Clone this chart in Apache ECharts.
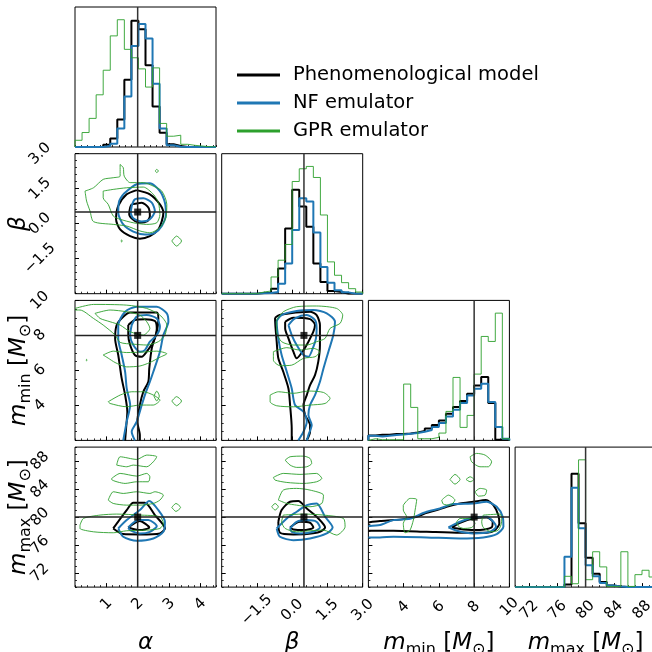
<!DOCTYPE html>
<html><head><meta charset="utf-8">
<script src="https://cdn.jsdelivr.net/npm/echarts@6/dist/echarts.min.js"></script>
<style>html,body{margin:0;padding:0;background:#fff}#c{width:652px;height:652px}</style>
</head><body><div id="c"></div><script>
// ---------------- data ----------------
const legendLabels = ['Phenomenological model', 'NF emulator', 'GPR emulator'];
const axisNames = ['{it|α}', '{it|β}', '{it|m}{sub|min} [{it|M}{sub|⊙}]', '{it|m}{sub|max} [{it|M}{sub|⊙}]'];
const alphaRange = [0, 4.5], betaRange = [-3, 3], mminRange = [2, 10], mmaxRange = [70, 90];
const truths = [2.0, 0.5, 8.0, 80.0];
const alphaTicks = [1, 2, 3, 4], alphaTickLabels = ['1', '2', '3', '4'];
const betaTicks = [-1.5, 0, 1.5, 3], betaTickLabels = ['\u22121.5', '0.0', '1.5', '3.0'];
const mminTicks = [4, 6, 8, 10], mminTickLabels = ['4', '6', '8', '10'];
const mmaxTicks = [72, 76, 80, 84, 88], mmaxTickLabels = ['72', '76', '80', '84', '88'];

// histograms (20 bins over the axis range)
const histAlphaModel = [0,0,0,1,7,25,82,200,375,350,243,120,42,8,3,0,0,0,0,0];
const histAlphaNF    = [0,0,0,0,3,10,55,150,300,365,322,188,55,5,1,0,0,0,0,0];
const histAlphaGPR   = [20,43,85,155,228,330,378,290,265,232,178,235,70,32,35,8,5,3,1,0];
const histBetaModel  = [0,0,0,0,0,2,3,15,75,195,310,260,200,90,35,8,5,0,0,0];
const histBetaNF     = [0,0,0,0,0,1,2,5,30,90,190,285,275,183,80,33,10,4,0,0];
const histBetaGPR    = [0,0,0,0,0,5,8,50,100,147,335,373,380,347,235,95,55,33,15,5];
const histMminModel  = [15,17,17,19,19,21,24,28,36,46,60,80,100,118,140,165,190,112,2,2];
const histMminNF     = [14,12,14,16,18,20,22,26,31,40,52,72,92,112,135,155,170,115,40,5];
const histMminGPR    = [5,2,2,2,2,169,99,5,5,9,22,87,189,39,75,199,312,297,382,5];
const histMmaxModel  = [0,0,0,0,0,0,0,8,337,190,87,40,15,5,2,0,0,0,0,0];
const histMmaxNF     = [0,0,0,0,0,0,0,90,295,175,65,32,12,5,2,0,0,0,0,0];
const histMmaxGPR    = [0,0,0,0,0,0,0,32,10,378,22,105,60,2,2,105,2,37,50,30];

// contours (alpha-beta)
const ctrABModel = [
 [[1.97,1.44],[2.39,1.26],[2.71,0.83],[2.82,0.47],[2.77,0.11],[2.66,-0.24],[2.39,-0.53],[2.07,-0.64],[1.76,-0.53],[1.44,-0.24],[1.31,0.19],[1.38,0.76],[1.65,1.26]],
 [[1.81,0.83],[2.13,0.90],[2.34,0.69],[2.39,0.33],[2.31,0.11],[2.07,0.04],[1.84,0.19],[1.73,0.40],[1.76,0.69]]
];
const ctrABNF = [
 [[1.54,1.26],[1.97,1.69],[2.39,1.73],[2.71,1.40],[2.87,0.90],[2.90,0.40],[2.77,-0.10],[2.55,-0.39],[2.23,-0.46],[1.86,-0.34],[1.54,-0.03],[1.38,0.47],[1.41,0.97]],
 [[1.81,0.76],[1.91,1.04],[2.18,1.09],[2.45,0.90],[2.55,0.54],[2.39,0.19],[2.13,0.09],[1.86,0.23],[1.78,0.47]]
];
const ctrABGPR = [
 [[0.32,1.40],[0.59,1.54],[0.90,1.90],[1.22,1.97],[1.44,2.04],[1.44,2.54],[1.54,2.40],[1.57,2.04],[1.76,1.76],[2.18,1.76],[2.50,1.61],[2.77,1.40],[2.93,0.83],[2.90,0.26],[2.71,-0.17],[2.39,-0.39],[2.07,-0.31],[1.65,-0.10],[1.22,-0.03],[0.59,0.09],[0.48,0.54],[0.37,0.97]],
 [[0.90,1.40],[1.22,1.47],[1.65,1.54],[2.18,1.57],[2.50,1.26],[2.66,0.90],[2.71,0.40],[2.61,0.04],[2.29,-0.03],[1.86,0.04],[1.44,0.19],[1.22,0.33],[1.06,0.83],[0.90,1.11]],
 [[2.56,2.26],[2.61,2.33],[2.66,2.26],[2.61,2.19]],
 [[3.09,-0.74],[3.24,-0.53],[3.40,-0.74],[3.24,-0.96]],
 [[1.46,-0.74],[1.49,-0.70],[1.51,-0.74],[1.49,-0.78]]
];
// contours (alpha-mmin)
const ctrAMModel = [
 [[1.60,2.0],[1.63,2.69],[1.67,3.64],[1.60,4.59],[1.49,5.54],[1.38,6.88],[1.28,7.83],[1.33,8.59],[1.54,9.07],[1.76,9.31],[2.61,9.31],[2.66,8.97],[2.61,8.21],[2.45,7.26],[2.37,6.11],[2.34,5.35],[2.18,4.78],[2.07,4.02],[1.99,3.07],[2.07,2.30],[2.07,2.0]],
 [[1.70,8.59],[1.91,8.88],[2.23,8.93],[2.55,8.82],[2.61,8.40],[2.50,7.64],[2.29,7.07],[2.13,6.78],[1.91,6.88],[1.76,7.45],[1.70,8.02]]
];
const ctrAMNF = [
 [[1.54,2.0],[1.65,3.07],[1.76,4.02],[1.65,4.97],[1.60,5.92],[1.49,6.88],[1.38,7.83],[1.38,8.59],[1.60,9.35],[1.97,9.64],[2.61,9.64],[2.93,9.26],[2.98,8.78],[2.82,8.02],[2.71,7.07],[2.50,5.92],[2.39,5.35],[2.23,4.59],[2.13,4.02],[1.97,3.07],[1.81,2.50],[1.91,2.0]],
 [[1.81,8.59],[1.97,9.07],[2.29,9.16],[2.61,8.97],[2.71,8.50],[2.61,8.02],[2.39,7.64],[2.23,7.16],[2.07,7.07],[1.86,7.45],[1.76,8.02]]
];
const ctrAMGPR = [
 [[0,9.54],[0.59,9.77],[1.65,9.73],[2.29,9.54],[2.71,9.16],[2.93,8.59],[2.87,8.02],[2.66,7.64],[2.29,7.45],[1.86,7.50],[1.44,7.60],[1.28,8.02],[0.90,8.59],[0.59,8.97],[0.16,9.45],[0,9.45]],
 [[0.64,9.26],[1.12,9.45],[1.65,9.35],[2.07,9.16],[2.29,8.78],[2.39,8.40],[2.18,8.02],[1.76,8.21],[1.44,8.59],[1.12,8.78],[0.80,8.97]],
 [[0.90,6.88],[1.22,7.10],[1.65,7.02],[2.18,7.05],[2.61,7.10],[2.93,6.95],[2.71,6.75],[2.39,6.45],[2.07,6.25],[1.65,6.20],[1.28,6.45],[1.06,6.70]],
 [[1.06,4.21],[1.44,4.59],[1.81,4.78],[2.18,4.78],[2.50,4.59],[2.71,4.30],[2.50,4.02],[2.07,4.02],[1.65,3.92],[1.12,4.11]],
 [[2.52,4.53],[2.61,4.82],[2.69,4.53],[2.61,4.25]],
 [[3.09,4.25],[3.24,4.50],[3.40,4.25],[3.24,3.98]],
 [[0.35,6.59],[0.37,6.63],[0.39,6.59],[0.37,6.55]]
];
// contours (beta-mmin)
const ctrBMModel = [
 [[-0.02,2.0],[-0.02,2.69],[-0.09,4.02],[-0.16,4.97],[-0.38,5.92],[-0.59,6.69],[-0.66,7.64],[-0.73,8.97],[-0.45,9.20],[0.76,9.35],[1.04,9.16],[1.18,8.59],[1.18,7.45],[1.11,6.50],[0.97,5.73],[0.76,5.16],[0.62,4.59],[0.48,4.02],[0.55,3.45],[0.76,2.88],[0.76,2.50],[0.62,2.0]],
 [[-0.30,8.78],[0.05,9.01],[0.76,8.93],[0.97,8.59],[0.90,8.21],[0.69,7.64],[0.48,7.16],[0.19,6.69],[0.05,7.07],[-0.16,7.83],[-0.30,8.40]]
];
const ctrBMNF = [
 [[0.26,2.0],[0.48,2.50],[0.62,3.07],[0.48,3.64],[0.12,4.02],[-0.02,4.97],[-0.23,5.92],[-0.45,6.88],[-0.59,7.83],[-0.66,8.78],[-0.45,9.16],[0.19,9.39],[0.90,9.45],[1.47,9.26],[1.82,8.78],[1.75,8.02],[1.54,7.07],[1.33,6.11],[1.18,5.35],[0.97,4.59],[0.76,4.02],[0.69,3.45],[0.83,2.88],[0.69,2.30],[0.62,2.0]],
 [[-0.16,8.59],[0.12,8.97],[0.62,9.16],[0.97,8.88],[1.04,8.40],[1.01,7.83],[0.90,7.35],[0.69,6.78],[0.48,6.88],[0.19,7.45],[-0.02,8.02]]
];
const ctrBMGPR = [
 [[-0.66,8.88],[-0.38,9.35],[0.19,9.64],[1.04,9.68],[1.89,9.54],[2.15,9.16],[2.04,8.69],[1.61,8.40],[1.40,7.83],[1.04,7.64],[0.62,7.45],[0.05,7.45],[-0.45,7.64],[-0.66,8.21]],
 [[-0.80,7.07],[-0.23,7.30],[0.33,7.16],[0.90,7.26],[1.18,7.07],[0.97,6.78],[0.48,6.69],[-0.02,6.30],[-0.52,6.27],[-0.80,6.59]],
 [[-0.94,4.59],[-0.59,4.78],[0.05,4.69],[0.69,4.82],[1.33,4.74],[1.61,4.40],[1.40,4.11],[0.76,4.02],[0.05,3.92],[-0.66,3.98],[-0.94,4.21]]
];
// contours (alpha-mmax)
const ctrAXModel = [
 [[1.22,78.38],[1.65,81.0],[1.86,82.05],[2.23,82.05],[2.55,80.29],[2.87,78.38],[2.71,77.67],[2.07,77.52],[1.54,77.57]],
 [[1.70,78.52],[2.07,79.43],[2.37,78.52],[2.07,78.14]]
];
const ctrAXNF = [
 [[1.38,78.38],[1.65,79.57],[2.07,81.0],[2.37,82.29],[2.66,81.0],[2.87,79.33],[2.82,77.90],[2.50,76.95],[1.97,76.62],[1.54,77.19]],
 [[1.70,78.52],[2.02,79.57],[2.34,79.57],[2.61,78.71],[2.39,77.90],[2.07,77.67],[1.76,78.14]]
];
const ctrAXGPR = [
 [[1.33,87.43],[1.44,88.62],[1.97,88.24],[2.29,88.86],[2.61,88.62],[2.50,87.90],[2.29,87.19],[1.86,87.43],[1.65,87.19]],
 [[1.17,85.52],[1.44,86.24],[1.97,85.86],[2.29,86.24],[2.39,85.76],[2.34,85.05],[1.97,85.05],[1.60,84.81],[1.17,85.38]],
 [[1.06,82.43],[1.22,83.62],[1.54,83.38],[1.97,83.62],[2.39,83.38],[2.55,83.62],[2.82,83.14],[2.71,82.43],[2.50,81.95],[2.07,81.71],[1.65,81.71],[1.22,81.95]],
 [[0.16,78.86],[0.27,79.81],[0.80,80.29],[1.33,80.43],[2.07,80.29],[2.71,80.05],[2.82,79.10],[2.71,78.38],[2.29,78.14],[1.65,78.05],[1.22,77.76],[0.59,77.90],[0.16,78.38]],
 [[3.09,81.38],[3.22,81.95],[3.37,81.38],[3.22,80.81]]
];
// contours (beta-mmax)
const ctrBXModel = [
 [[-0.59,79.33],[-0.45,81.0],[-0.09,82.19],[0.26,82.29],[0.62,81.24],[1.04,80.05],[1.40,78.52],[1.18,77.90],[0.62,77.57],[0.05,77.52],[-0.52,77.76]],
 [[-0.09,78.52],[0.33,79.33],[0.76,79.19],[0.90,78.52],[0.48,78.14],[0.05,78.24]]
];
const ctrBXNF = [
 [[-0.66,78.38],[-0.23,79.81],[0.19,80.76],[0.62,81.71],[1.04,81.95],[1.40,80.05],[1.72,78.52],[1.47,77.67],[0.76,76.95],[0.05,76.71],[-0.52,77.19]],
 [[-0.09,78.38],[0.19,79.33],[0.62,79.57],[1.04,79.33],[1.18,78.52],[0.90,77.90],[0.33,77.67],[-0.02,77.90]]
];
const ctrBXGPR = [
 [[-0.30,88.14],[-0.09,88.62],[0.48,88.71],[0.76,88.38],[0.83,87.67],[0.62,87.19],[0.19,87.10],[-0.09,87.43]],
 [[-0.80,85.67],[-0.38,86.24],[0.33,86.10],[1.04,86.24],[1.26,85.52],[1.04,85.05],[0.48,84.81],[-0.23,84.95],[-0.73,85.29]],
 [[-0.59,82.43],[-0.38,83.86],[0.19,84.10],[0.76,83.86],[1.33,83.14],[1.26,81.95],[0.76,81.48],[0.19,81.71],[-0.23,81.95]],
 [[-0.87,81.48],[-0.73,81.95],[-0.59,81.48],[-0.73,81.0]],
 [[-0.38,80.29],[0.48,80.43],[1.33,80.29],[2.18,79.81],[2.25,78.62],[1.89,77.43],[1.33,78.14],[0.76,78.05],[0.19,77.90],[-0.30,78.38],[-0.45,79.33]]
];
// contours (mmin-mmax)
const ctrMXModel = [
 [[2.0,79.24],[2.66,79.43],[3.42,79.57],[3.98,79.71],[4.74,80.05],[5.31,80.62],[5.88,81.0],[6.44,81.48],[7.20,81.95],[7.95,82.19],[8.67,82.43],[9.09,81.71],[9.37,80.29],[9.43,79.10],[9.18,78.14],[8.71,77.76],[7.20,77.76],[5.31,77.90],[3.42,78.05],[2.0,78.05]],
 [[6.73,78.52],[7.20,79.19],[7.95,79.81],[8.71,79.95],[9.05,79.33],[8.99,78.52],[8.33,78.14],[7.39,78.24]]
];
const ctrMXNF = [
 [[2.0,78.71],[2.66,78.86],[3.42,79.57],[4.36,79.76],[4.84,80.29],[5.31,80.76],[6.06,81.24],[6.82,81.86],[7.95,81.95],[8.71,82.19],[9.28,81.48],[9.62,80.05],[9.66,78.62],[9.28,77.57],[8.52,77.10],[7.20,76.95],[5.31,77.10],[3.42,77.19],[2.66,77.10],[2.0,77.10]],
 [[6.54,78.52],[7.20,79.33],[7.95,79.95],[8.71,80.05],[9.09,79.33],[9.24,78.62],[8.90,77.90],[7.95,77.67],[7.01,78.05]]
];
const ctrMXGPR = [
 [[7.77,88.62],[8.14,89.10],[8.62,88.86],[8.99,87.90],[8.81,87.19],[8.33,87.19],[7.86,87.90]],
 [[6.63,85.38],[6.91,86.10],[7.20,85.38],[6.91,84.71]],
 [[7.54,85.38],[7.77,85.76],[7.99,85.38],[7.77,85.05]],
 [[8.05,83.62],[8.33,84.10],[8.71,83.86],[8.62,83.14],[8.24,83.0]],
 [[6.16,82.43],[6.54,83.14],[6.91,82.43],[6.63,81.71],[6.25,81.86]],
 [[3.98,81.71],[4.36,82.67],[4.74,82.52],[4.65,81.0],[4.55,79.57],[4.36,78.14],[4.08,77.76],[3.98,79.10],[4.17,80.05],[3.98,81.0]],
 [[7.01,79.33],[7.20,79.81],[7.77,79.81],[8.05,79.10],[7.86,78.52],[7.39,78.38],[7.10,78.71]],
 [[8.52,80.29],[9.47,80.43],[9.56,79.33],[9.37,78.14],[8.99,77.90],[8.52,78.52],[8.43,79.33]]
];

// ---------------- assembly ----------------
const FONT = 'DejaVu Sans';
const COLORS = ['#000000', '#1f77b4', '#2ca02c'];   // model, NF, GPR
const WIDTHS = [2, 2, 1];
const ranges = [alphaRange, betaRange, mminRange, mmaxRange];
const tickVals = [alphaTicks, betaTicks, mminTicks, mmaxTicks];
const tickLbls = [alphaTickLabels, betaTickLabels, mminTickLabels, mmaxTickLabels];
const majorStep = [1, 1.5, 2, 2];
const minorStep = [0.2, 0.3, 0.5, 1];
const xLabelMargin = [17, 23, 20, 23];
const yLabelMargin = 35;
const hists = [
  [histAlphaModel, histAlphaNF, histAlphaGPR],
  [histBetaModel, histBetaNF, histBetaGPR],
  [histMminModel, histMminNF, histMminGPR],
  [histMmaxModel, histMmaxNF, histMmaxGPR]
];
const contours = {
  '1,0': [ctrABModel, ctrABNF, ctrABGPR],
  '2,0': [ctrAMModel, ctrAMNF, ctrAMGPR],
  '2,1': [ctrBMModel, ctrBMNF, ctrBMGPR],
  '3,0': [ctrAXModel, ctrAXNF, ctrAXGPR],
  '3,1': [ctrBXModel, ctrBXNF, ctrBXGPR],
  '3,2': [ctrMXModel, ctrMXNF, ctrMXGPR]
};

const X0 = 75, Y0 = 7, STEP = 146.7, W = 141, H = 140;
const nameStyle = {
  fontFamily: FONT, fontSize: 23, color: '#000', lineHeight: 30,
  rich: {
    it: { fontFamily: FONT, fontSize: 23, fontStyle: 'italic', lineHeight: 30, color: '#000' },
    sub: { fontFamily: FONT, fontSize: 16, lineHeight: 16, verticalAlign: 'bottom', color: '#000' }
  }
};
function fmt(d) {
  return v => { const i = tickVals[d].findIndex(t => Math.abs(t - v) < 1e-6); return i >= 0 ? tickLbls[d][i] : ''; };
}
function majorAxis(gi, d, showLabel, showName, isY) {
  return {
    gridIndex: gi, type: 'value', min: ranges[d][0], max: ranges[d][1], interval: majorStep[d],
    position: isY ? 'left' : 'bottom',
    axisLine: { show: false, onZero: false }, splitLine: { show: false },
    axisTick: { show: true, inside: true, length: 4, customValues: tickVals[d], lineStyle: { color: '#000', width: 1 } },
    axisLabel: { show: showLabel, customValues: tickVals[d], formatter: fmt(d), rotate: 45, align: 'center', verticalAlign: 'middle',
      fontFamily: FONT, fontSize: 15, color: '#000', margin: isY ? yLabelMargin : xLabelMargin[d], hideOverlap: false },
    name: showName ? axisNames[d] : '', nameLocation: 'middle', nameGap: isY ? 41 : 41, nameMoveOverlap: false,
    nameTextStyle: nameStyle
  };
}
function minorAxis(gi, d, isY) {
  return {
    gridIndex: gi, type: 'value', min: ranges[d][0], max: ranges[d][1], interval: minorStep[d],
    position: isY ? 'left' : 'bottom',
    axisLine: { show: false, onZero: false }, splitLine: { show: false }, axisLabel: { show: false },
    axisTick: { show: true, inside: true, length: 2, lineStyle: { color: '#000', width: 0.8 } }
  };
}
function stepData(counts, range) {
  const n = counts.length, w = (range[1] - range[0]) / n, pts = [[range[0], 0]];
  for (let i = 0; i < n; i++) { pts.push([range[0] + i * w, counts[i]], [range[0] + (i + 1) * w, counts[i]]); }
  pts.push([range[1], 0]);
  return pts;
}
function onEdge(p, rx, ry) {
  return Math.abs(p[0] - rx[0]) < 1e-9 || Math.abs(p[0] - rx[1]) < 1e-9 || Math.abs(p[1] - ry[0]) < 1e-9 || Math.abs(p[1] - ry[1]) < 1e-9;
}

const grids = [], xAxes = [], yAxes = [], series = [];
let gi = 0;
for (let r = 0; r < 4; r++) {
  for (let c = 0; c <= r; c++) {
    grids.push({ left: X0 + c * STEP, top: Y0 + r * STEP, width: W, height: H, show: true, borderColor: '#000', borderWidth: 1,
      backgroundColor: 'transparent', containLabel: false, outerBoundsMode: 'none' });
    xAxes.push(majorAxis(gi, c, r === 3, r === 3, false), minorAxis(gi, c, false));
    const ax = 2 * gi;
    if (r === c) {
      const hmax = 1.1 * Math.max(...hists[c].map(h => Math.max(...h)));
      const hy = { gridIndex: gi, type: 'value', min: 0, max: hmax, show: false, splitLine: { show: false }, axisLine: { onZero: false } };
      yAxes.push(hy, Object.assign({}, hy));
      [2, 0, 1].forEach(k => series.push({
        type: 'line', name: legendLabels[k], xAxisIndex: ax, yAxisIndex: ax, data: stepData(hists[c][k], ranges[c]),
        symbol: 'none', lineStyle: { color: COLORS[k], width: WIDTHS[k], opacity: k === 2 ? 0.9 : 1 }, itemStyle: { color: COLORS[k] },
        z: 3 + k, animation: false, silent: true
      }));
      series.push({ type: 'line', name: 'truth', xAxisIndex: ax, yAxisIndex: ax, data: [[truths[c], 0], [truths[c], hmax]],
        symbol: 'none', lineStyle: { color: '#333', width: 1.5 }, z: 10, animation: false, silent: true });
    } else {
      yAxes.push(majorAxis(gi, r, c === 0, c === 0, true), minorAxis(gi, r, true));
      const sets = contours[r + ',' + c];
      [2, 0, 1].forEach(k => sets[k].forEach(poly => {
        const data = poly.slice();
        if (!onEdge(poly[0], ranges[c], ranges[r])) data.push(poly[0]);
        series.push({ type: 'line', name: legendLabels[k], xAxisIndex: ax, yAxisIndex: ax, data,
          symbol: 'none', smooth: 0.25, lineStyle: { color: COLORS[k], width: WIDTHS[k], opacity: k === 2 ? 0.9 : 1 },
          itemStyle: { color: COLORS[k] }, z: 3 + k, animation: false, silent: true });
      }));
      series.push({ type: 'line', name: 'truth', xAxisIndex: ax, yAxisIndex: ax, data: [[truths[c], ranges[r][0]], [truths[c], ranges[r][1]]],
        symbol: 'none', lineStyle: { color: '#222', width: 1.5 }, z: 10, animation: false, silent: true });
      series.push({ type: 'line', name: 'truth', xAxisIndex: ax, yAxisIndex: ax, data: [[ranges[c][0], truths[r]], [ranges[c][1], truths[r]]],
        symbol: 'none', lineStyle: { color: '#222', width: 1.5 }, z: 10, animation: false, silent: true });
      series.push({ type: 'scatter', name: 'truthPoint', xAxisIndex: ax, yAxisIndex: ax, data: [[truths[c], truths[r]]],
        symbol: 'rect', symbolSize: 7, itemStyle: { color: '#000' }, z: 11, animation: false, silent: true });
    }
    gi++;
  }
}

const chart = echarts.init(document.getElementById('c'), null, { renderer: 'canvas' });
chart.setOption({
  backgroundColor: '#fff',
  animation: false,
  grid: grids, xAxis: xAxes, yAxis: yAxes, series,
  legend: {
    orient: 'vertical', left: 237, top: 65, padding: 0, itemWidth: 43, itemHeight: 3, itemGap: 8, icon: 'rect',
    data: legendLabels, selectedMode: false,
    textStyle: { fontFamily: FONT, fontSize: 19.5, color: '#000', lineHeight: 19, padding: [0, 0, 0, 8] }
  }
});
</script></body></html>
